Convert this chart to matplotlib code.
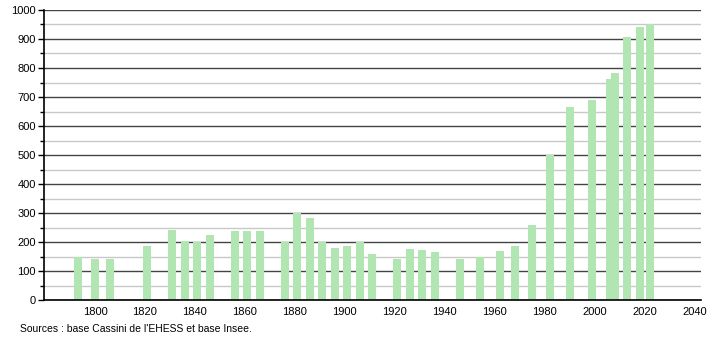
import matplotlib
matplotlib.use("Agg")
import matplotlib.pyplot as plt
from matplotlib.ticker import MultipleLocator

plt.rcParams['font.family'] = ['Liberation Sans', 'DejaVu Sans']

# census years and population
years = [1793, 1800, 1806, 1821, 1831, 1836, 1841, 1846, 1856, 1861, 1866,
         1876, 1881, 1886, 1891, 1896, 1901, 1906, 1911, 1921, 1926, 1931,
         1936, 1946, 1954, 1962, 1968, 1975, 1982, 1990, 1999, 2006, 2008,
         2013, 2018, 2022]
population = [147, 141, 141, 186, 241, 203, 201, 224, 238, 238, 238,
              201, 301, 284, 201, 180, 186, 199, 159, 141, 176, 172,
              165, 141, 148, 169, 186, 259, 500, 666, 690, 762, 784,
              907, 941, 953]
x_ticks = [1800, 1820, 1840, 1860, 1880, 1900, 1920, 1940, 1960, 1980, 2000, 2020, 2040]
source = "Sources : base Cassini de l'EHESS et base Insee."

fig = plt.figure(figsize=(7.1, 3.4), dpi=100)
ax = fig.add_axes([0.062, 0.1176, 0.925, 0.853])

ax.bar(years, population, width=3.2, color='#b1e5b1', zorder=3)

ax.set_xlim(1779.6, 2042.4)
ax.set_ylim(0, 1000)
ax.yaxis.set_major_locator(MultipleLocator(100))
ax.yaxis.set_minor_locator(MultipleLocator(50))
ax.set_xticks(x_ticks)
ax.grid(axis='y', which='major', color='#444444', linewidth=1.0, zorder=1)
ax.grid(axis='y', which='minor', color='#c8c8c8', linewidth=1.0, zorder=1)

for s in ['top', 'right']:
    ax.spines[s].set_visible(False)
ax.spines['left'].set_linewidth(1.2)
ax.spines['bottom'].set_linewidth(1.2)
ax.spines['left'].set_zorder(4)
ax.spines['bottom'].set_zorder(4)

ax.tick_params(axis='y', which='major', length=4, width=1, labelsize=8, pad=2)
ax.tick_params(axis='y', which='minor', length=3, width=1)
ax.tick_params(axis='x', length=0, labelsize=8, pad=5)

fig.text(0.028, 0.033, source, fontsize=7.5, ha='left', va='center')

fig.savefig('out.png', dpi=100)
